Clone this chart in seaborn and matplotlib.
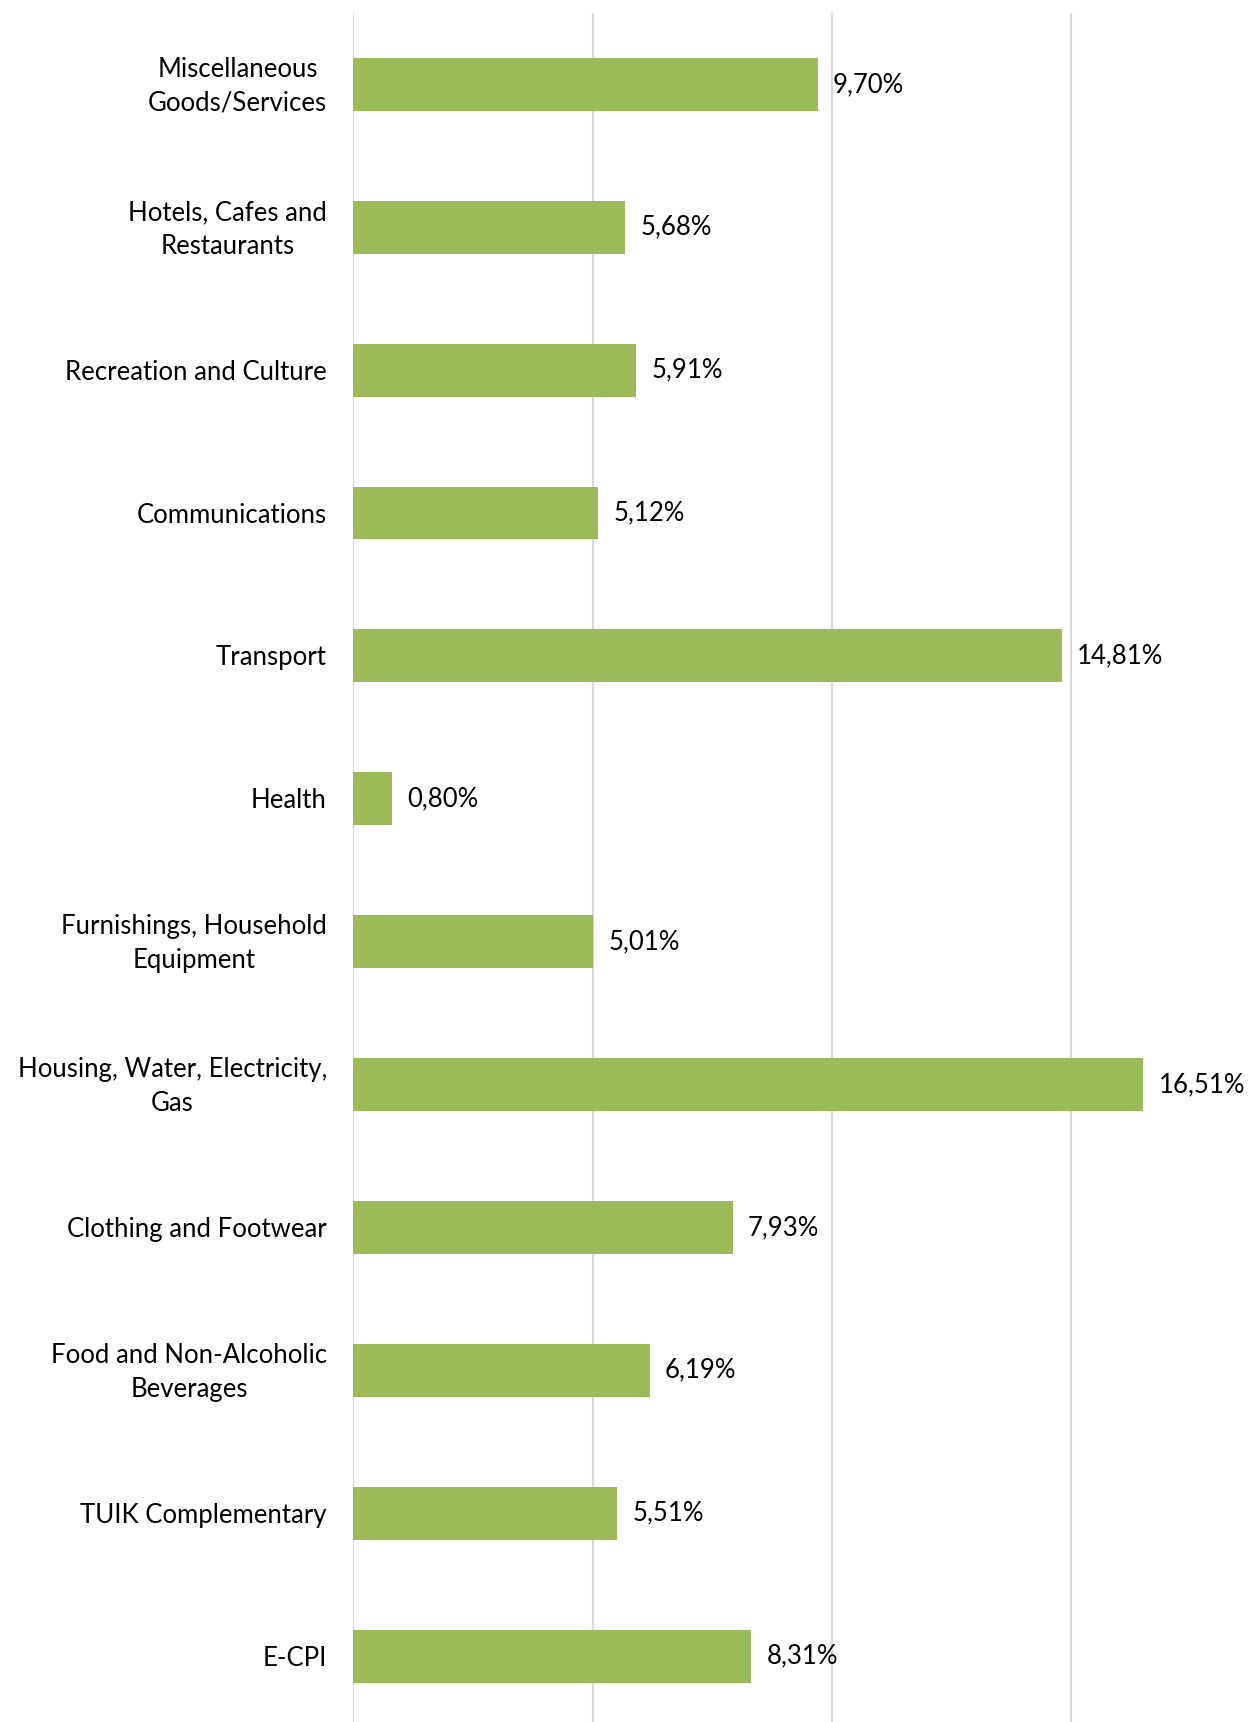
import numpy as np
import pandas as pd
import seaborn as sns
import matplotlib
matplotlib.use('Agg')
import matplotlib.pyplot as plt
from matplotlib import transforms

# categories top to bottom, values in %
categories = ['Miscellaneous\nGoods/Services', 'Hotels, Cafes and\nRestaurants',
              'Recreation and Culture', 'Communications', 'Transport', 'Health',
              'Furnishings, Household\nEquipment', 'Housing, Water, Electricity,\nGas',
              'Clothing and Footwear', 'Food and Non-Alcoholic\nBeverages',
              'TUIK Complementary', 'E-CPI']
values = [9.70, 5.68, 5.91, 5.12, 14.81, 0.80, 5.01, 16.51, 7.93, 6.19, 5.51, 8.31]
grid_ticks = [0, 5, 10, 15]

df = pd.DataFrame({'category': categories, 'value': values})

sns.set_theme(style='white')
plt.rcParams['font.family'] = ['Lato', 'DejaVu Sans']

fig = plt.figure(figsize=(12.53, 17.22), dpi=100)
ax = fig.add_axes([0.282, -0.0032, 0.718, 0.9957])

sns.barplot(data=df, x='value', y='category', color='#9BBB59', width=0.37,
            saturation=1, edgecolor='none', ax=ax, zorder=3)

ax.set_xlim(0, 18.8)
ax.set_ylim(11.5, -0.5)
ax.set_xticks(grid_ticks)
ax.set_xticklabels([])
ax.set_yticklabels([])
ax.tick_params(axis='both', length=0)
ax.grid(axis='x', color='#D9D9D9', linewidth=1.5, zorder=0)
ax.grid(axis='y', visible=False)
for s in ax.spines.values():
    s.set_visible(False)
ax.set_xlabel('')
ax.set_ylabel('')

# category labels, drawn as text so two-line labels sit centred on the bar
tr = transforms.offset_copy(ax.get_yaxis_transform(), fig=fig, x=-19, y=-1.5, units='points')
for i, cat in enumerate(categories):
    ax.text(0, i, cat, transform=tr, ha='right', va='center', fontsize=18.5,
            color='black', linespacing=1.45, multialignment='center')

ax.bar_label(ax.containers[0], labels=[f'{v:.2f}%'.replace('.', ',') for v in values],
             padding=11, fontsize=18.5, color='black')

fig.savefig('out.png', dpi=100)
